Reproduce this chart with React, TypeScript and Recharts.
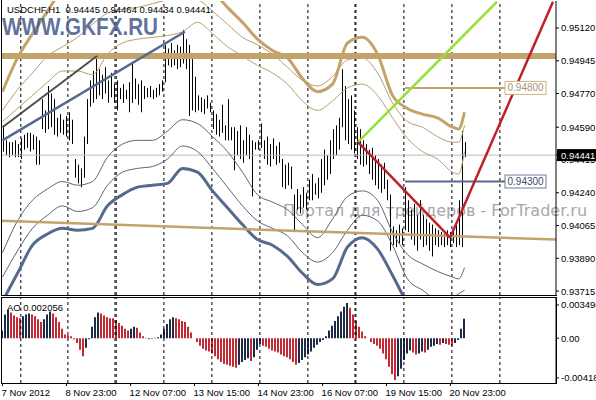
import React from 'react';
import {
  ComposedChart,
  Bar,
  Line,
  XAxis,
  YAxis,
  ReferenceLine,
  ReferenceDot,
  Cell,
} from 'recharts';

const FONT = '"Liberation Sans", Arial, sans-serif';

// H1 bars, x = bar index (one bar every 3px on screen)
const highs = [
  0.9460, 0.9452, 0.9451, 0.9451, 0.9452, 0.9450, 0.9453, 0.9455, 0.9456, 0.9456,
  0.9455, 0.9454, 0.9452, 0.9474, 0.9468, 0.9481, 0.9477, 0.9474, 0.9464, 0.9466,
  0.9463, 0.9465, 0.9467, 0.9463, 0.9442, 0.9439, 0.9437, 0.9454, 0.9474, 0.9484,
  0.9489, 0.9497, 0.9490, 0.9487, 0.9491, 0.9484, 0.9488, 0.9482, 0.9484, 0.9480,
  0.9482, 0.9479, 0.9483, 0.9494, 0.9485, 0.9482, 0.9484, 0.9481, 0.9480, 0.9481,
  0.9479, 0.9480, 0.9482, 0.9484, 0.9503, 0.9501, 0.9504, 0.9500, 0.9503, 0.9502,
  0.9511, 0.9506, 0.9503, 0.9497, 0.9486, 0.9476, 0.9475, 0.9474, 0.9476, 0.9472,
  0.9468, 0.9466, 0.9463, 0.9471, 0.9460, 0.9474, 0.9459, 0.9459, 0.9457, 0.9460,
  0.9452, 0.9459, 0.9455, 0.9452, 0.9451, 0.9452, 0.9461, 0.9452, 0.9454, 0.9450,
  0.9453, 0.9449, 0.9451, 0.9442, 0.9439, 0.9440, 0.9438, 0.9423, 0.9426, 0.9423,
  0.9427, 0.9424, 0.9431, 0.9434, 0.9429, 0.9432, 0.9442, 0.9447, 0.9444, 0.9452,
  0.9458, 0.9460, 0.9464, 0.9490, 0.9481, 0.9474, 0.9476, 0.9468, 0.9459, 0.9458,
  0.9452, 0.9450, 0.9447, 0.9448, 0.9444, 0.9442, 0.9439, 0.9440, 0.9431, 0.9423,
  0.9406, 0.9404, 0.9407, 0.9405, 0.9427, 0.9420, 0.9415, 0.9418, 0.9412, 0.9420,
  0.9412, 0.9410, 0.9408, 0.9407, 0.9405, 0.9404, 0.9403, 0.9402, 0.9404, 0.9403,
  0.9405, 0.9407, 0.9420, 0.9457, 0.9451,
];

const lows = [
  0.9446, 0.9444, 0.9443, 0.9444, 0.9443, 0.9443, 0.9442, 0.9447, 0.9448, 0.9446,
  0.9447, 0.9439, 0.9439, 0.9458, 0.9456, 0.9458, 0.9459, 0.9455, 0.9454, 0.9456,
  0.9455, 0.9454, 0.9452, 0.9450, 0.9432, 0.9429, 0.9427, 0.9432, 0.9450, 0.9470,
  0.9472, 0.9474, 0.9476, 0.9474, 0.9477, 0.9472, 0.9475, 0.9472, 0.9468, 0.9474,
  0.9472, 0.9474, 0.9467, 0.9472, 0.9474, 0.9471, 0.9467, 0.9474, 0.9475, 0.9475,
  0.9474, 0.9475, 0.9476, 0.9478, 0.9483, 0.9492, 0.9491, 0.9492, 0.9490, 0.9491,
  0.9493, 0.9490, 0.9465, 0.9468, 0.9467, 0.9468, 0.9467, 0.9466, 0.9469, 0.9467,
  0.9458, 0.9455, 0.9454, 0.9456, 0.9452, 0.9452, 0.9452, 0.9436, 0.9444, 0.9442,
  0.9440, 0.9444, 0.9442, 0.9422, 0.9447, 0.9447, 0.9448, 0.9442, 0.9439, 0.9438,
  0.9442, 0.9439, 0.9440, 0.9427, 0.9426, 0.9428, 0.9426, 0.9403, 0.9415, 0.9413,
  0.9416, 0.9415, 0.9420, 0.9420, 0.9423, 0.9421, 0.9424, 0.9428, 0.9431, 0.9434,
  0.9442, 0.9444, 0.9447, 0.9459, 0.9452, 0.9450, 0.9447, 0.9445, 0.9442, 0.9439,
  0.9438, 0.9439, 0.9434, 0.9431, 0.9428, 0.9426, 0.9424, 0.9426, 0.9420, 0.9393,
  0.9396, 0.9395, 0.9397, 0.9396, 0.9404, 0.9403, 0.9399, 0.9396, 0.9393, 0.9399,
  0.9395, 0.9396, 0.9393, 0.9390, 0.9396, 0.9395, 0.9396, 0.9395, 0.9396, 0.9395,
  0.9397, 0.9395, 0.9396, 0.9395, 0.9443,
];

// Awesome Oscillator, one value per bar
const ao = [
  0.0008, 0.0025, 0.0030, 0.0027, 0.0024, 0.0022, 0.0021, 0.0023, 0.0025, 0.0026,
  0.0025, 0.0023, 0.0020, 0.0017, 0.0020, 0.0025, 0.0028, 0.0026, 0.0022, 0.0017,
  0.0010, 0.0004, 0.0003, 0.0002, -0.0001, -0.0005, -0.0012, -0.0019, -0.0010, -0.0001,
  0.0012, 0.0022, 0.0027, 0.0026, 0.0024, 0.0022, 0.0021, 0.0021, 0.0019, 0.0016,
  0.0013, 0.0010, 0.0008, 0.0010, 0.0012, 0.0011, 0.0006, 0.0002, 0.00005, -0.0001,
  -0.00005, 0.00005, 0.0001, 0.0004, 0.0010, 0.0015, 0.0020, 0.0022, 0.0021, 0.0020,
  0.0018, 0.0017, 0.0012, 0.0006, 0.0000, -0.0004, -0.0008, -0.0011, -0.0013, -0.0014,
  -0.0016, -0.0019, -0.0022, -0.0025, -0.0027, -0.0028, -0.0029, -0.0030, -0.0031, -0.0028,
  -0.0025, -0.0023, -0.0021, -0.0024, -0.0020, -0.0012, -0.0006, -0.0008, -0.0009, -0.0011,
  -0.0013, -0.0014, -0.0015, -0.0017, -0.0019, -0.0020, -0.0022, -0.0025, -0.0028, -0.0026,
  -0.0023, -0.0020, -0.0017, -0.0014, -0.0010, -0.0007, -0.0004, -0.0002, 0.0002, 0.0008,
  0.0013, 0.0018, 0.0023, 0.0028, 0.0033, 0.0037, 0.0032, 0.0025, 0.0018, 0.0012,
  0.0007, 0.0002, 0.0000, -0.0004, -0.0006, -0.0008, -0.0011, -0.0016, -0.0022, -0.0030,
  -0.0038, -0.0044, -0.0040, -0.0032, -0.0023, -0.0016, -0.0013, -0.0015, -0.0017, -0.0016,
  -0.0014, -0.0015, -0.0012, -0.0009, -0.0008, -0.0006, -0.0007, -0.0005, -0.0006, -0.0007,
  -0.0008, -0.0005, -0.0002, 0.0010, 0.002056,
];

// band lines, sampled every few bars
const bandX = [0, 5, 10, 15, 20, 25, 30, 35, 40, 45, 50, 55, 60, 65, 70, 75, 80, 85, 90, 95, 100, 105, 110, 115, 120, 125, 130, 135, 140, 145, 150, 152, 154];
const upper3 = [0.9478, 0.9496, 0.9509, 0.9521, 0.9533, 0.9540, 0.9546, 0.9550, 0.9553, 0.9554, 0.9554, 0.9552, 0.9548, 0.9541, 0.9532, 0.9523, 0.9515, 0.9506, 0.9500, 0.9496, 0.9485, 0.9478, 0.9482, 0.9504, 0.9507, 0.9498, 0.9476, 0.9469, 0.9466, 0.9464, 0.9459, 0.9458, 0.9467];
const upper2 = [0.9468, 0.9479, 0.9488, 0.9497, 0.9502, 0.9507, 0.9514, 0.9520, 0.9522, 0.9523, 0.9525, 0.9527, 0.9528, 0.9527, 0.9521, 0.9514, 0.9507, 0.9503, 0.9498, 0.9491, 0.9484, 0.9481, 0.9486, 0.9495, 0.9496, 0.9488, 0.9472, 0.9462, 0.9459, 0.9454, 0.9451, 0.9451, 0.9460];
const upper1 = [0.9462, 0.9469, 0.9476, 0.9483, 0.9489, 0.9489, 0.9487, 0.9498, 0.9504, 0.9506, 0.9507, 0.9508, 0.9510, 0.9515, 0.9509, 0.9502, 0.9497, 0.9492, 0.9488, 0.9482, 0.9473, 0.9468, 0.9473, 0.9480, 0.9482, 0.9476, 0.9464, 0.9453, 0.9446, 0.9442, 0.9435, 0.9434, 0.9446];
const lower1 = [0.9392, 0.9409, 0.9420, 0.9426, 0.9430, 0.9428, 0.9430, 0.9443, 0.9450, 0.9452, 0.9452, 0.9457, 0.9463, 0.9461, 0.9454, 0.9446, 0.9435, 0.9423, 0.9419, 0.9415, 0.9407, 0.9400, 0.9410, 0.9422, 0.9425, 0.9420, 0.9403, 0.9391, 0.9386, 0.9382, 0.9379, 0.9378, 0.9384];
const lower2 = [0.9379, 0.9393, 0.9405, 0.9412, 0.9417, 0.9414, 0.9416, 0.9428, 0.9435, 0.9437, 0.9438, 0.9442, 0.9449, 0.9446, 0.9437, 0.9427, 0.9417, 0.9409, 0.9405, 0.9401, 0.9392, 0.9387, 0.9392, 0.9404, 0.9412, 0.9409, 0.9396, 0.9378, 0.9372, 0.9367, 0.9368, 0.9370, 0.9372];
const lower3 = [0.9366, 0.9381, 0.9396, 0.9402, 0.9405, 0.9404, 0.9405, 0.9417, 0.9423, 0.9427, 0.9428, 0.9429, 0.9437, 0.9435, 0.9425, 0.9416, 0.9407, 0.9399, 0.9396, 0.9390, 0.9381, 0.9375, 0.9378, 0.9395, 0.9400, 0.9394, 0.9380, 0.9365, 0.9356, 0.9351, 0.9354, 0.9355, 0.9356];

const priceTicks = [0.9512, 0.94945, 0.9477, 0.9459, 0.94415, 0.9424, 0.94065, 0.9389, 0.93715];
const lastPrice = 0.94441;
const aoTicks = [0.003496, 0, -0.00418];
const aoTickLabels = ['0.003496', '0.00', '-0.00418'];
const dateTicks = [0, 21.3, 42.7, 64, 85.3, 106.7, 128, 149.3];
const dateLabels = ['7 Nov 2012', '8 Nov 23:00', '12 Nov 07:00', '13 Nov 15:00', '14 Nov 23:00', '16 Nov 07:00', '19 Nov 15:00', '20 Nov 23:00'];
const daySeparators = [6.1, 21.8, 37.5, 37.9, 53.8, 69.8, 85.8, 101.8, 117.5, 117.8, 133.8, 149.8, 165.8];

const X_DOMAIN: [number, number] = [-0.5, 184.5];
const PRICE_DOMAIN: [number, number] = [0.93694, 0.95264];
const AO_DOMAIN: [number, number] = [-0.00471, 0.00423];

const TAN = '#c3a36a';
const TAN_THIN = '#b99d6c';
const SLATE = '#56698f';
const GRAY_BLUE = '#5b6479';
const AO_UP = '#1d2b47';
const AO_DOWN = '#c22a35';

const priceData = highs.map((h, i) => ({ x: i, range: [lows[i], h] }));
const aoData = ao.map((v, i) => ({ x: i, ao: v, rising: i === 0 || v > ao[i - 1] }));
const bandData = bandX.map((x, k) => ({
  x,
  u3: upper3[k],
  u2: upper2[k],
  u1: upper1[k],
  l1: lower1[k],
  l2: lower2[k],
  l3: lower3[k],
}));

const PriceBar = (props: any) => {
  const { x, y, width, height } = props;
  const cx = Math.round(x + width / 2) + 0.5;
  const top = Math.min(y, y + height);
  const h = Math.max(Math.abs(height), 1);
  return <line x1={cx} x2={cx} y1={top} y2={top + h} stroke="#000" strokeWidth={1} />;
};

const PriceTick = ({ x, y, payload }: any) => {
  const v = payload.value;
  if (v === lastPrice) {
    return (
      <g>
        <rect x={x - 4} y={y - 6} width={40} height={12} fill="#000" />
        <text x={x} y={y + 3.5} fontSize={9.5} fontFamily={FONT} fill="#fff">
          {v.toFixed(5)}
        </text>
      </g>
    );
  }
  return (
    <text x={x} y={y + 3.5} fontSize={9.5} fontFamily={FONT} fill="#000">
      {v.toFixed(5)}
    </text>
  );
};

const AoTick = ({ x, y, payload }: any) => (
  <text x={x} y={y + 3.5} fontSize={9.5} fontFamily={FONT} fill="#000">
    {aoTickLabels[aoTicks.indexOf(payload.value)]}
  </text>
);

const DateTick = ({ x, y, payload }: any) => (
  <text x={x - 1} y={y + 8} fontSize={9.5} fontFamily={FONT} fill="#000" textAnchor="start">
    {dateLabels[dateTicks.indexOf(payload.value)]}
  </text>
);

const LevelBox = (color: string, textColor: string, label: string) => (p: any) => (
  <g>
    <rect x={p.cx} y={p.cy - 6.5} width={41} height={13} fill="#fff" stroke={color} strokeWidth={1} />
    <text x={p.cx + 2.5} y={p.cy + 3.5} fontSize={10} fontFamily={FONT} fill={textColor}>
      {label}
    </text>
  </g>
);

export default function App() {
  return (
    <div style={{ position: 'absolute', left: 0, top: 0, width: 596, height: 400, background: '#fff', overflow: 'hidden' }}>
      {/* watermark behind the chart */}
      <svg width={596} height={400} style={{ position: 'absolute', left: 0, top: 0 }}>
        <text x={283} y={216} fontSize={16} fontFamily='"DejaVu Sans", sans-serif' fill="#a8a8a8">
          Портал для трейдеров - ForTrader.ru
        </text>
      </svg>

      <div style={{ position: 'absolute', left: 0, top: 0 }}>
        <ComposedChart width={596} height={296} data={priceData} margin={{ top: 1, right: 0, bottom: 1, left: 1 }}>
          <XAxis type="number" dataKey="x" domain={X_DOMAIN} hide allowDataOverflow />
          <YAxis
            orientation="right"
            domain={PRICE_DOMAIN}
            allowDataOverflow
            ticks={[...priceTicks, lastPrice]}
            interval={0}
            tick={<PriceTick />}
            tickSize={3}
            tickLine={{ stroke: '#000' }}
            axisLine={{ stroke: '#000' }}
            width={40}
          />
          {daySeparators.map((d) => (
            <ReferenceLine key={`sep-${d}`} x={d} stroke="#000" strokeDasharray="3 3" strokeWidth={1} />
          ))}
          <ReferenceLine y={lastPrice} stroke="#bbbbbb" strokeWidth={1} />

          <Line data={bandData} dataKey="u3" type="monotone" stroke={TAN} strokeWidth={3} dot={false} isAnimationActive={false} />
          <Line data={bandData} dataKey="u2" type="monotone" stroke={TAN_THIN} strokeWidth={1} dot={false} isAnimationActive={false} />
          <Line data={bandData} dataKey="u1" type="monotone" stroke={TAN_THIN} strokeWidth={1} dot={false} isAnimationActive={false} />
          <Line data={bandData} dataKey="l1" type="monotone" stroke={GRAY_BLUE} strokeWidth={1} dot={false} isAnimationActive={false} />
          <Line data={bandData} dataKey="l2" type="monotone" stroke={GRAY_BLUE} strokeWidth={1} dot={false} isAnimationActive={false} />
          <Line data={bandData} dataKey="l3" type="monotone" stroke={SLATE} strokeWidth={3} dot={false} isAnimationActive={false} />

          <ReferenceLine y={0.9497} stroke={TAN} strokeWidth={6} />
          <ReferenceLine
            segment={[{ x: -0.5, y: 0.9409 }, { x: 184.5, y: 0.9399 }]}
            stroke={TAN}
            strokeWidth={2.5}
            ifOverflow="hidden"
          />
          <ReferenceLine segment={[{ x: 134.2, y: 0.948 }, { x: 167.5, y: 0.948 }]} stroke={TAN} strokeWidth={2} ifOverflow="hidden" />
          <ReferenceLine segment={[{ x: 134.2, y: 0.943 }, { x: 167.5, y: 0.943 }]} stroke={SLATE} strokeWidth={2} ifOverflow="hidden" />

          <Bar dataKey="range" barSize={1} shape={<PriceBar />} isAnimationActive={false} />

          <ReferenceLine segment={[{ x: 0, y: 0.9459 }, { x: 31.5, y: 0.9497 }]} stroke="#4d4d4d" strokeWidth={2} ifOverflow="hidden" />
          <ReferenceLine segment={[{ x: 0, y: 0.9452 }, { x: 60.8, y: 0.951 }]} stroke={SLATE} strokeWidth={2.5} ifOverflow="hidden" />
          <ReferenceLine segment={[{ x: 118.5, y: 0.9451 }, { x: 164.8, y: 0.9526 }]} stroke="#9ade3a" strokeWidth={2.5} ifOverflow="hidden" />
          <ReferenceLine segment={[{ x: 118.5, y: 0.9451 }, { x: 149.2, y: 0.94 }]} stroke="#c0202c" strokeWidth={2.5} ifOverflow="hidden" />
          <ReferenceLine segment={[{ x: 149.2, y: 0.94 }, { x: 183.5, y: 0.9526 }]} stroke="#c0202c" strokeWidth={2.5} ifOverflow="hidden" />

          <ReferenceDot x={167.5} y={0.948} ifOverflow="visible" shape={LevelBox('#c8b48a', '#a89470', '0.94800')} />
          <ReferenceDot x={167.5} y={0.943} ifOverflow="visible" shape={LevelBox('#6d7d9c', '#3b4a68', '0.94300')} />
        </ComposedChart>
      </div>

      <div style={{ position: 'absolute', left: 0, top: 297 }}>
        <ComposedChart width={596} height={103} data={aoData} margin={{ top: 1, right: 0, bottom: 0, left: 1 }}>
          <XAxis
            type="number"
            dataKey="x"
            domain={X_DOMAIN}
            allowDataOverflow
            ticks={dateTicks}
            interval={0}
            tick={<DateTick />}
            tickSize={3}
            tickLine={{ stroke: '#000' }}
            axisLine={false}
            height={17}
          />
          <YAxis
            orientation="right"
            domain={AO_DOMAIN}
            allowDataOverflow
            ticks={aoTicks}
            interval={0}
            tick={<AoTick />}
            tickSize={3}
            tickLine={{ stroke: '#000' }}
            axisLine={{ stroke: '#000' }}
            width={40}
          />
          {daySeparators.map((d) => (
            <ReferenceLine key={`aosep-${d}`} x={d} stroke="#000" strokeDasharray="3 3" strokeWidth={1} />
          ))}
          <Bar dataKey="ao" barSize={2} isAnimationActive={false}>
            {aoData.map((d) => (
              <Cell key={`ao-${d.x}`} fill={d.rising ? AO_UP : AO_DOWN} />
            ))}
          </Bar>
        </ComposedChart>
      </div>

      {/* panel frames */}
      <div style={{ position: 'absolute', left: 1, top: 0, width: 556, height: 296, borderLeft: '1px solid #000', borderBottom: '1px solid #000', boxSizing: 'border-box', pointerEvents: 'none' }} />
      <div style={{ position: 'absolute', left: 1, top: 297, width: 556, height: 87, border: '1px solid #000', boxSizing: 'border-box', pointerEvents: 'none' }} />

      <svg width={596} height={400} style={{ position: 'absolute', left: 0, top: 0, pointerEvents: 'none' }}>
        <text x={2} y={35} fontSize={24} fontWeight="bold" fontFamily={FONT} fill="#4b5f8f" fillOpacity={0.9} textLength={156} lengthAdjust="spacingAndGlyphs">
          WWW.GKFX.RU
        </text>
        <text x={7} y={13} fontSize={9.5} fontFamily={FONT} fill="#000" style={{ whiteSpace: 'pre' }}>
          USDCHF,H1  0.94445 0.94464 0.94434 0.94441
        </text>
        <text x={7} y={311} fontSize={9.5} fontFamily={FONT} fill="#000">
          AO 0.002056
        </text>
      </svg>
    </div>
  );
}
